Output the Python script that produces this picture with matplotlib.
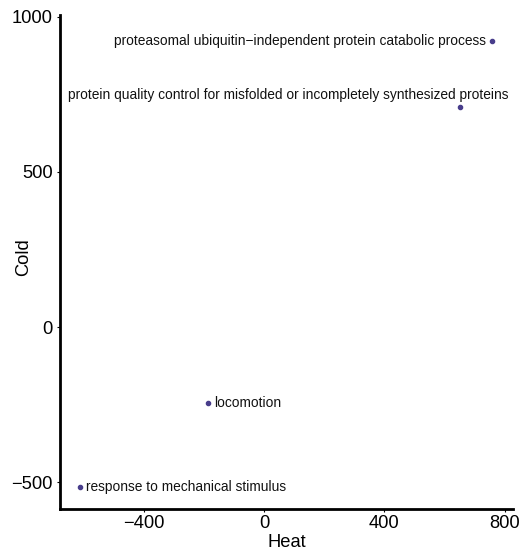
import matplotlib
matplotlib.use("Agg")
import matplotlib.pyplot as plt

plt.rcParams['font.family'] = ['Liberation Sans', 'DejaVu Sans']

terms = [
    "proteasomal ubiquitin\u2212independent protein catabolic process",
    "protein quality control for misfolded or incompletely synthesized proteins",
    "locomotion",
    "response to mechanical stimulus",
]
heat = [758, 652, -186, -612]
cold = [922, 710, -245, -516]

# label offsets in pixels and alignment (repel-style placement)
offsets = [(-6, 0), (-172, 12), (6, 0), (6, 0)]
aligns = ["right", "center", "left", "left"]

fig = plt.figure(figsize=(5.21, 5.54), dpi=100)
ax = fig.add_axes([0.115, 0.081, 0.87, 0.892])

ax.scatter(heat, cold, s=9, color="#483d8b", zorder=3)
for t, x, y, off, ha in zip(terms, heat, cold, offsets, aligns):
    ax.annotate(t, (x, y), xytext=off, textcoords="offset pixels",
                ha=ha, va="center", fontsize=9.9, color="#111111")

ax.set_xlim(-678, 828)
ax.set_ylim(-587, 1006)
ax.set_xticks([-400, 0, 400, 800])
ax.set_yticks([-500, 0, 500, 1000])
ax.set_xticklabels(["\u2212400", "0", "400", "800"])
ax.set_yticklabels(["\u2212500", "0", "500", "1000"])

for s in ["top", "right"]:
    ax.spines[s].set_visible(False)
for s in ["left", "bottom"]:
    ax.spines[s].set_linewidth(2)
ax.tick_params(labelsize=13.2, length=2, width=0.8, pad=3)
ax.tick_params(axis="x", pad=2)

ax.set_xlabel("Heat", fontsize=13.2, labelpad=2)
ax.set_ylabel("Cold", fontsize=13.2)
ax.yaxis.set_label_coords(-0.062, 0.51)

fig.savefig("out.png", dpi=100)
